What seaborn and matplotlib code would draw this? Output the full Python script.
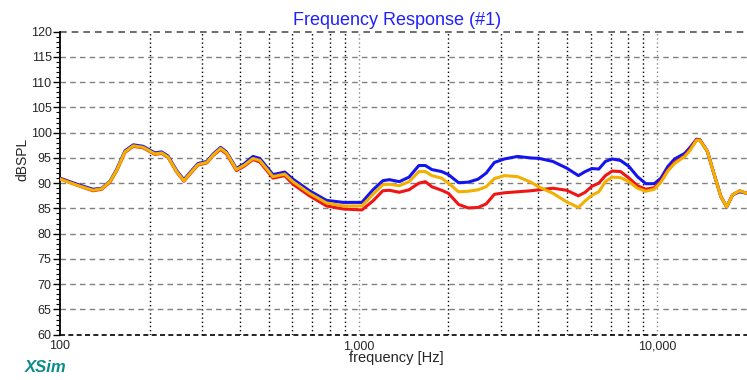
import matplotlib
matplotlib.use("Agg")
import matplotlib.pyplot as plt
import matplotlib.ticker as mticker
import numpy as np
import pandas as pd
import seaborn as sns

# frequencies (Hz)
freq = [100, 114, 129, 138, 147, 155, 165, 176, 190, 208, 219, 230, 246, 260,
        276, 290, 310, 326, 345, 361, 390, 415, 443, 467, 517, 566, 603, 685,
        781, 888, 1026, 1118, 1206, 1269, 1369, 1476, 1592, 1674, 1760, 1898,
        2000, 2162, 2329, 2515, 2676, 2850, 3079, 3409, 3775, 4036, 4478, 4975,
        5450, 5741, 6050, 6376, 6710, 7071, 7545, 8050, 8590, 9166, 9780,
        10300, 10860, 11440, 12370, 12860, 13550, 13900, 14740, 15530, 16370,
        17100, 17900, 18890, 20000]

spl_blue = [91.0, 89.8, 88.8, 89.0, 90.4, 92.8, 96.4, 97.6, 97.3, 96.0, 96.2,
            95.4, 92.5, 90.7, 92.5, 93.9, 94.3, 95.8, 97.1, 96.2, 92.9, 93.9,
            95.3, 94.9, 91.7, 92.2, 90.8, 88.5, 86.6, 86.2, 86.2, 88.7, 90.5,
            90.7, 90.3, 91.2, 93.5, 93.5, 92.7, 92.3, 91.7, 90.1, 90.2, 90.8,
            92.0, 94.1, 94.8, 95.3, 95.0, 94.9, 94.3, 93.0, 91.5, 92.3, 92.9,
            92.8, 94.3, 94.8, 94.5, 93.3, 91.3, 89.9, 89.9, 91.0, 93.3, 94.8,
            95.9, 97.0, 98.7, 98.6, 96.3, 91.7, 87.3, 85.3, 87.7, 88.3, 88.0]

spl_red = [90.9, 89.6, 88.5, 88.8, 90.2, 92.5, 96.1, 97.3, 97.0, 95.7, 95.9,
           95.1, 92.2, 90.4, 92.2, 93.6, 94.0, 95.5, 96.7, 95.8, 92.5, 93.4,
           94.7, 94.2, 91.0, 91.5, 89.8, 87.5, 85.5, 84.9, 84.7, 86.5, 88.5,
           88.6, 88.2, 88.7, 90.0, 90.3, 89.3, 88.6, 88.0, 85.8, 85.1, 85.2,
           85.9, 87.8, 88.1, 88.3, 88.5, 88.7, 89.0, 88.6, 87.5, 88.2, 89.4,
           90.0, 91.5, 92.4, 92.3, 91.0, 89.5, 88.8, 89.1, 90.4, 92.6, 94.1,
           95.4, 96.6, 98.6, 98.6, 96.3, 91.7, 87.3, 85.3, 87.7, 88.5, 88.0]

spl_orange = [90.8, 89.6, 88.6, 88.9, 90.3, 92.6, 96.2, 97.4, 97.1, 95.8, 96.0,
              95.2, 92.3, 90.5, 92.3, 93.7, 94.1, 95.6, 96.9, 96.0, 92.7, 93.6,
              94.9, 94.5, 91.3, 91.8, 90.3, 88.0, 86.1, 85.5, 85.5, 87.8, 89.7,
              89.8, 89.5, 90.3, 92.3, 92.3, 91.5, 91.0, 90.0, 88.3, 88.4, 88.7,
              89.3, 90.9, 91.5, 91.3, 90.2, 89.2, 88.0, 86.3, 85.2, 86.5, 87.6,
              88.3, 90.3, 91.2, 91.1, 90.3, 89.0, 88.4, 88.8, 90.2, 92.4, 93.9,
              95.3, 96.4, 98.5, 98.5, 96.3, 91.7, 87.3, 85.3, 87.7, 88.5, 88.0]

series = ["blue", "red", "orange"]
colors = {"blue": "#1414F0", "red": "#F01414", "orange": "#F2B000"}

df = pd.concat([
    pd.DataFrame({"freq": freq, "spl": spl_blue, "trace": "blue"}),
    pd.DataFrame({"freq": freq, "spl": spl_red, "trace": "red"}),
    pd.DataFrame({"freq": freq, "spl": spl_orange, "trace": "orange"}),
])

sns.set_theme(style="white")
plt.rcParams["font.family"] = ["Liberation Sans", "DejaVu Sans"]

fig = plt.figure(figsize=(7.47, 3.8), dpi=100)
ax = fig.add_axes([0.0803, 0.1192, 0.9197, 0.7974])

# grid first so the traces sit on top
for f in [200, 300, 400, 500, 600, 700, 800, 900,
          2000, 3000, 4000, 5000, 6000, 7000, 8000, 9000]:
    ax.axvline(f, color="black", lw=1, ls=(0, (1, 2)), zorder=1)
for f in [1000, 10000]:
    ax.axvline(f, color="#888888", lw=1, ls=(0, (1, 2)), zorder=1)
for v in range(65, 120, 5):
    ax.axhline(v, color="#808080", lw=1, ls=(0, (4, 3)), zorder=1)
ax.axhline(60, color="black", lw=1.2, ls=(0, (3, 2)), zorder=2, clip_on=False)
ax.axhline(120, color="#555555", lw=1.2, ls=(0, (4, 3)), zorder=2, clip_on=False)

sns.lineplot(data=df, x="freq", y="spl", hue="trace", hue_order=series,
             palette=colors, lw=2.2, legend=False, ax=ax, zorder=3)

ax.set_xscale("log")
ax.set_xlim(100, 20000)
ax.set_ylim(60, 120)
ax.xaxis.set_major_locator(mticker.FixedLocator([100, 1000, 10000]))
ax.xaxis.set_major_formatter(mticker.FuncFormatter(lambda v, p: f"{int(v):,}"))
ax.xaxis.set_minor_locator(mticker.NullLocator())
ax.yaxis.set_major_locator(mticker.MultipleLocator(5))
ax.yaxis.set_minor_locator(mticker.MultipleLocator(1))

for s in ["top", "right", "bottom"]:
    ax.spines[s].set_visible(False)
ax.spines["left"].set_color("black")
ax.spines["left"].set_linewidth(1.3)

ax.tick_params(axis="y", which="major", direction="out", length=5, width=1,
               color="black", labelsize=9, pad=1, left=True)
ax.tick_params(axis="y", which="minor", direction="out", length=3, width=0.8,
               color="black", left=True)
ax.tick_params(axis="x", which="major", length=0, labelsize=9, pad=4)

ax.set_xlabel("frequency [Hz]", fontsize=10.5, labelpad=2)
ax.xaxis.set_label_coords(0.49, -0.055)
ax.xaxis.label.set_va("top")
ax.set_ylabel("dBSPL", fontsize=10)
ax.yaxis.set_label_coords(-0.044, 0.58)
ax.set_title("Frequency Response (#1)", color="#2020FF", fontsize=13, pad=5,
             x=0.49)

fig.text(0.033, 0.02, "XSim", color="#0A8C8C", fontsize=12,
         fontweight="bold", fontstyle="italic")

fig.savefig("out.png", dpi=100)
